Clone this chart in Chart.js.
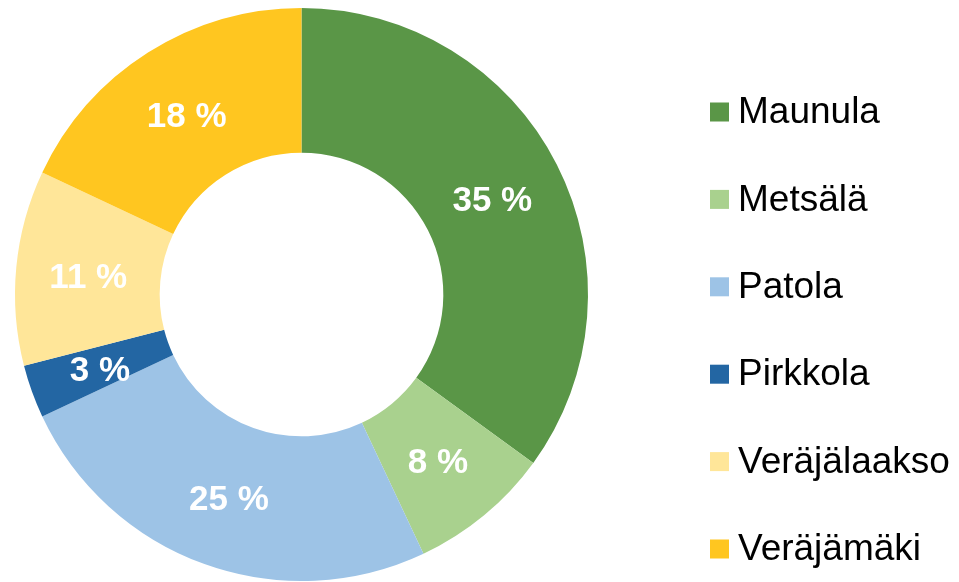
<!DOCTYPE html>
<html>
<head>
<meta charset="utf-8">
<script src="https://cdn.jsdelivr.net/npm/chart.js@4"></script>
<style>
  html, body { margin: 0; padding: 0; background: #fff; }
  #wrap { width: 959px; height: 582px; position: relative; }
</style>
</head>
<body>
<div id="wrap"><canvas id="chart"></canvas></div>
<script>
const areas = ["Maunula", "Metsälä", "Patola", "Pirkkola", "Veräjälaakso", "Veräjämäki"];
const shares = [35, 8, 25, 3, 11, 18];
const colors = ["#5a9647", "#a9d18e", "#9dc3e6", "#2366a3", "#ffe699", "#ffc620"];

// white percent labels in the middle of each ring segment
const sliceLabels = {
    id: "sliceLabels",
    afterDatasetsDraw(chart) {
        const ctx = chart.ctx;
        const meta = chart.getDatasetMeta(0);
        ctx.save();
        ctx.fillStyle = "#ffffff";
        ctx.font = "bold 35px 'Liberation Sans', Arial, sans-serif";
        ctx.textAlign = "center";
        ctx.textBaseline = "middle";
        meta.data.forEach((arc, i) => {
            const mid = (arc.startAngle + arc.endAngle) / 2;
            const r = (arc.innerRadius + arc.outerRadius) / 2;
            ctx.fillText(shares[i] + " %", arc.x + Math.cos(mid) * r, arc.y + Math.sin(mid) * r + 4);
        });
        ctx.restore();
    }
};

// legend on the right, square markers
const sideLegend = {
    id: "sideLegend",
    afterDraw(chart) {
        const ctx = chart.ctx;
        ctx.save();
        ctx.font = "37px 'Liberation Sans', Arial, sans-serif";
        ctx.textBaseline = "middle";
        ctx.textAlign = "left";
        areas.forEach((name, i) => {
            const y = 112 + i * 87.4;
            ctx.fillStyle = colors[i];
            ctx.fillRect(710, y - 9.5, 19, 19);
            ctx.fillStyle = "#000000";
            ctx.fillText(name, 738, y + 1);
        });
        ctx.restore();
    }
};

new Chart(document.getElementById("chart"), {
    type: "doughnut",
    data: {
        labels: areas,
        datasets: [{
            data: shares,
            backgroundColor: colors,
            borderWidth: 0,
        }],
    },
    options: {
        responsive: true,
        maintainAspectRatio: false,
        animation: false,
        cutout: "49.5%",
        layout: { padding: { left: 14, top: 8, right: 370, bottom: 1 } },
        plugins: {
            legend: { display: false },
            tooltip: { enabled: false },
        },
    },
    plugins: [sliceLabels, sideLegend],
});
</script>
</body>
</html>
